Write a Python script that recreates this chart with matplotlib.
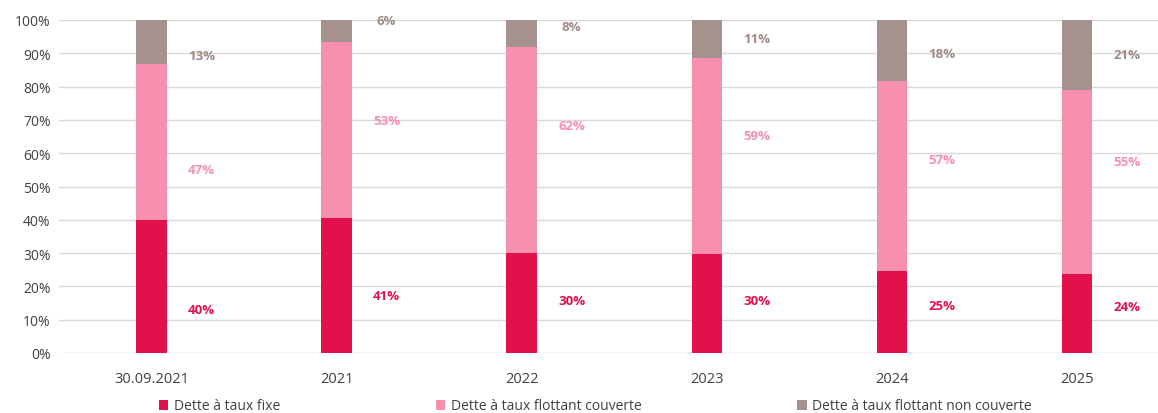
import numpy as np
import matplotlib
matplotlib.use("Agg")
import matplotlib.pyplot as plt
import matplotlib.ticker as mticker
from matplotlib.patches import Patch

plt.rcParams["font.family"] = ["Open Sans", "DejaVu Sans"]

PERIODS   = ["30.09.2021", "2021", "2022", "2023", "2024", "2025"]
FIXE      = [40, 40.6, 30, 29.6, 24.6, 23.6]
COUVERTE  = [46.9, 52.9, 62, 59.0, 57.1, 55.3]
NON_COUV  = [13.1, 6.5, 8, 11.4, 18.3, 21.1]
SERIES    = ["Dette à taux fixe", "Dette à taux flottant couverte",
             "Dette à taux flottant non couverte"]

LBL_FIXE  = [13, 17.4, 15.9, 15.9, 14.4, 14.1]
LBL_COUV  = [55, 69.7, 68.2, 65.2, 58, 57.4]
LBL_NON   = [89.2, 99.7, 97.9, 94.3, 89.8, 89.5]

BAR_COLORS = ["#E2104B", "#F78FAE", "#A5928E"]
TXT_COLORS = ["#E2104B", "#F78FAE", "#A08A86"]

fig = plt.figure(figsize=(11.58, 4.14), dpi=100, facecolor="white")
ax = fig.add_axes([59 / 1158, 1 - 354 / 414, 1 - 59 / 1158, 333 / 414])

x = np.arange(len(PERIODS))
w = 0.165
bottom = np.zeros(len(PERIODS))
for vals, col in zip([FIXE, COUVERTE, NON_COUV], BAR_COLORS):
    ax.bar(x, vals, w, bottom=bottom, color=col, zorder=2)
    bottom += np.array(vals)

for vals, pos, col in zip([FIXE, COUVERTE, NON_COUV], [LBL_FIXE, LBL_COUV, LBL_NON], TXT_COLORS):
    for xi, v, p in zip(x, vals, pos):
        ax.text(xi + 0.27, p, f"{v:.0f}%", ha="center", va="center",
                fontsize=9.5, fontweight="bold", color=col)

ax.set_xlim(-0.5, 5.5 - 11.5 / 185)
ax.set_ylim(0, 100)
ax.set_yticks(np.arange(0, 101, 10))
ax.yaxis.set_major_formatter(mticker.FuncFormatter(lambda v, _: f"{v:.0f}%"))
ax.set_xticks(x)
ax.set_xticklabels(PERIODS)
ax.tick_params(length=0, labelsize=10, colors="#404040")
ax.tick_params(axis="x", pad=13, labelsize=10.5)
ax.tick_params(axis="y", pad=6)
ax.grid(axis="y", color="#D9D9D9", linewidth=1, zorder=0)
ax.set_axisbelow(True)
for s in ax.spines.values():
    s.set_visible(False)

handles = [Patch(facecolor=c, edgecolor="none") for c in BAR_COLORS]
fig.legend(handles, SERIES, loc="center left", bbox_to_anchor=(146 / 1158, 1 - 407 / 414),
           ncol=3, frameon=False, fontsize=10, handlelength=0.7, handleheight=0.7,
           handletextpad=0.4, columnspacing=11.2, labelcolor="#404040")

fig.savefig("out.png", dpi=100)
